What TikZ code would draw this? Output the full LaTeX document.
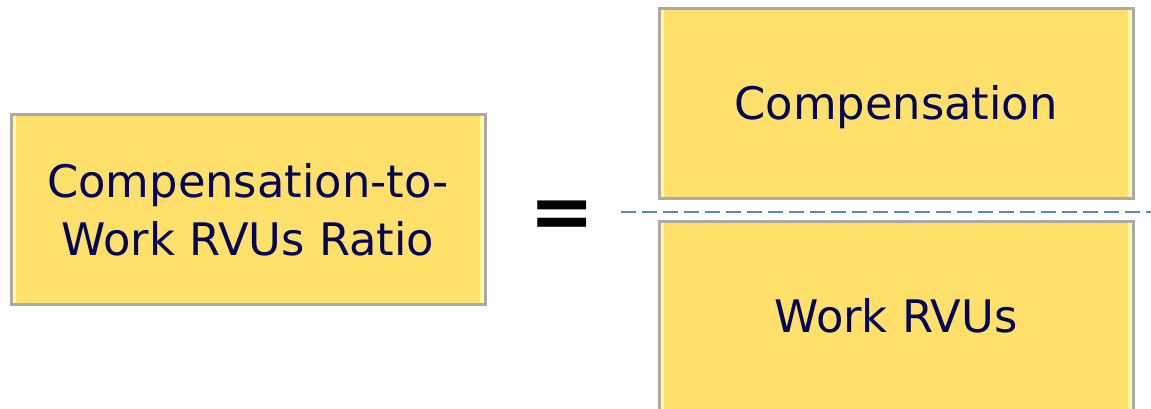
\documentclass[tikz,border=0pt]{standalone}
\usepackage{fontspec}
\setmainfont{DejaVu Sans}
\usepackage{tikz}
\usetikzlibrary{positioning,calc}
\definecolor{boxfill}{RGB}{254,224,106}
\definecolor{boxedge}{RGB}{170,170,170}
\definecolor{boxglow}{RGB}{255,250,160}
\definecolor{navytext}{RGB}{5,5,85}
\definecolor{divline}{RGB}{90,135,192}
\tikzset{
  termbox/.style={rectangle, draw=boxedge, line width=1.5pt, fill=boxfill,
                  minimum width=237pt, minimum height=95pt, inner sep=0pt,
                  align=center, text=navytext, font=\fontsize{22.4}{29}\selectfont,
                  path picture={
                    \fill[boxglow] (path picture bounding box.south west) rectangle ++(2.5pt,95pt);
                    \fill[boxglow] (path picture bounding box.south east) rectangle ++(-2.5pt,95pt);
                  }},
  eqsign/.style={font=\bfseries\fontsize{39}{39}\selectfont, inner sep=0pt},
  fracline/.style={divline, line width=1pt, dash pattern=on 7.5pt off 3pt}
}
\begin{document}
\begin{tikzpicture}[x=0.5pt, y=-0.5pt]
\useasboundingbox (0,0) rectangle (1151,408);
\begin{scope}
\clip (0,0) rectangle (1151,408);
\node (ratio) [termbox] at (248,209.5) {Compensation-to-\\Work RVUs Ratio};
\node (num) [termbox, text height=21pt] at (896,103) {Compensation};
\node (den) [termbox] at (896,316) {Work RVUs};
\node (eq) [eqsign] at (562,220) {=};
\coordinate (linestart) at (621,212);
\coordinate (lineend) at (1151,212);
\draw[fracline] (linestart) -- (lineend);
\end{scope}
\end{tikzpicture}
\end{document}
